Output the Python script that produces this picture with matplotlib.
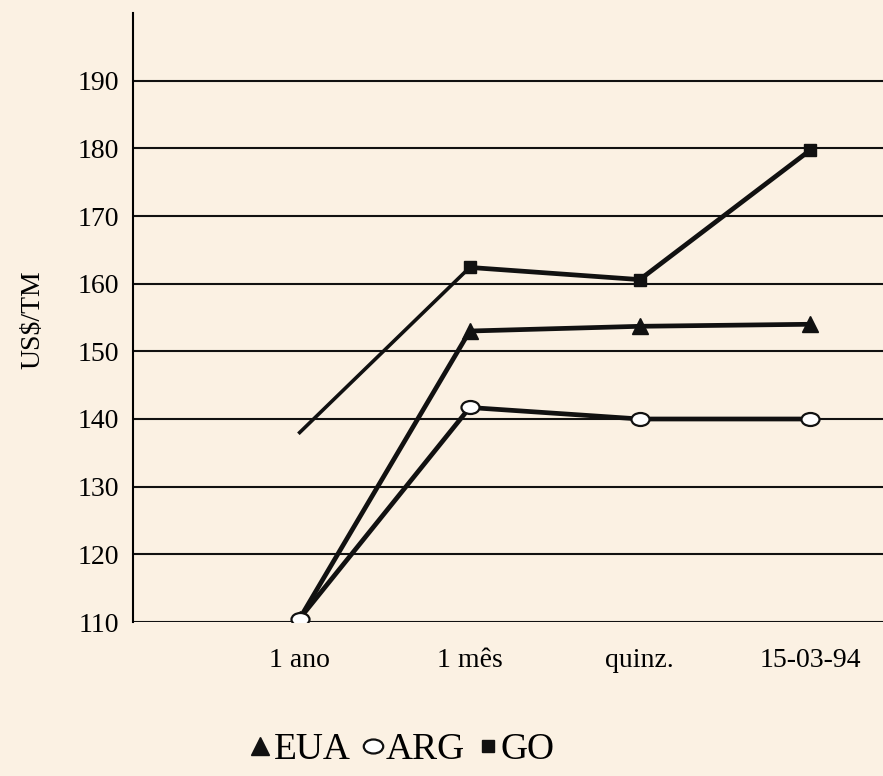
import numpy as np
import matplotlib.pyplot as plt
from matplotlib.lines import Line2D
from matplotlib.path import Path
from matplotlib.transforms import Affine2D

plt.rcParams["font.family"] = ["Liberation Serif", "DejaVu Serif"]

categories = ["1 ano", "1 mês", "quinz.", "15-03-94"]
eua = [110.5, 153.0, 153.7, 154.0]
arg = [110.5, 141.7, 140.0, 140.0]
go = [138.0, 162.4, 160.6, 179.7]
yticks = [110, 120, 130, 140, 150, 160, 170, 180, 190]

bg = "#fbf1e3"
ink = "#111111"

# flattened open circle, like the printed marker
ellipse = Path.unit_circle().transformed(Affine2D().scale(1.0, 0.72))

fig = plt.figure(figsize=(8.83, 7.76), dpi=100, facecolor=bg)
ax = fig.add_axes([133 / 883, 154 / 776, 750 / 883, 609 / 776], facecolor=bg)

x = np.arange(1, len(categories) + 1)

for y in yticks:
    ax.axhline(y, color=ink, lw=1.5, zorder=1)

ax.plot(x[:2], go[:2], color=ink, lw=2.6, zorder=3)
ax.plot(x[1:], go[1:], color=ink, lw=3.4, marker="s", ms=9, zorder=4)
ax.plot(x, eua, color=ink, lw=3.4, marker="^", ms=11, zorder=4)
ax.plot(x, arg, color=ink, lw=3.4, zorder=3)
ax.plot(x, arg, ls="none", marker=ellipse, ms=13, mfc="white", mec=ink, mew=1.6, zorder=5)

ax.set_xlim(0.02, 4.43)
ax.set_ylim(110, 200)
ax.set_xticks(x)
ax.set_xticklabels(categories, fontsize=20)
ax.set_yticks(yticks)
ax.set_yticklabels([str(v) for v in yticks], fontsize=20)
ax.tick_params(length=0)
ax.tick_params(axis="y", pad=10)
ax.tick_params(axis="x", pad=19)
for s in ["top", "right", "bottom"]:
    ax.spines[s].set_visible(False)
ax.spines["left"].set_linewidth(1.5)
ax.set_ylabel("US$/TM", fontsize=20)
ax.yaxis.set_label_coords(-0.117, 0.496)

handles = [
    Line2D([], [], ls="none", marker="^", ms=13, color=ink),
    Line2D([], [], ls="none", marker=ellipse, ms=14, mfc="white", mec=ink, mew=1.6),
    Line2D([], [], ls="none", marker="s", ms=9, color=ink),
]
fig.legend(handles, ["EUA", "ARG", "GO"], loc="center", bbox_to_anchor=(402 / 883, 1 - 750 / 776),
           ncol=3, frameon=False, fontsize=27, handlelength=0.6, handletextpad=0.05,
           columnspacing=0.3)

fig.savefig("out.png", dpi=100, facecolor=bg)
